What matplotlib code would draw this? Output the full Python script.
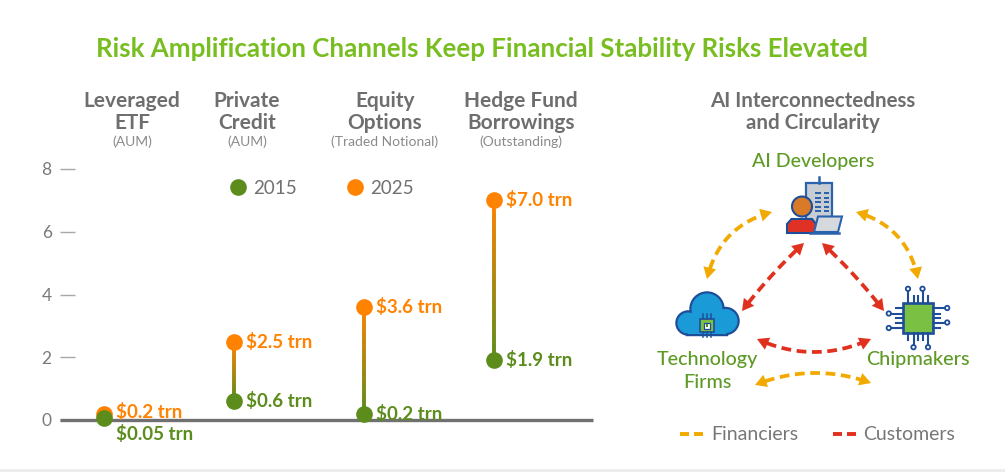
import numpy as np
import matplotlib
matplotlib.use("Agg")
import matplotlib.pyplot as plt
from matplotlib.collections import LineCollection
from matplotlib.patches import Rectangle, Circle, Polygon
from matplotlib.colors import to_rgb

# ---------------- data ----------------
categories = ["Leveraged\nETF", "Private\nCredit", "Equity\nOptions", "Hedge Fund\nBorrowings"]
measures = ["(AUM)", "(AUM)", "(Traded Notional)", "(Outstanding)"]
values_2015 = [0.05, 0.6, 0.2, 1.9]
values_2025 = [0.2, 2.5, 3.6, 7.0]
labels_2015 = ["$0.05 trn", "$0.6 trn", "$0.2 trn", "$1.9 trn"]
labels_2025 = ["$0.2 trn", "$2.5 trn", "$3.6 trn", "$7.0 trn"]
yticks = [0, 2, 4, 6, 8]
series_names = ["2015", "2025"]
title = "Risk Amplification Channels Keep Financial Stability Risks Elevated"
panel_title = "AI Interconnectedness\nand Circularity"
nodes = ["AI Developers", "Technology\nFirms", "Chipmakers"]
link_types = ["Financiers", "Customers"]

# ---------------- style ----------------
GREEN = "#5B8C1C"
ORANGE = "#FF8200"
TITLE_GREEN = "#78BE20"
NODE_GREEN = "#5E9B26"
GRAY = "#6E6E6E"
LGRAY = "#8A8A8A"
YEL = "#F2A900"
RED = "#E0301E"
NAVY = "#1F4E99"
FONT = "Lato"

W, H = 1005, 472
fig = plt.figure(figsize=(W / 100, H / 100), dpi=100)
fig.patch.set_facecolor("white")

# main lollipop axes (pixel layout: 0 -> y=420, 8 -> y=169, categories at x=104+130*i)
px_per_unit = (420 - 169) / 8.0
ax_left_px, ax_right_px, ax_top_px, ax_bot_px = 60, 600, 150, 450
ax = fig.add_axes([ax_left_px / W, (H - ax_bot_px) / H,
                   (ax_right_px - ax_left_px) / W, (ax_bot_px - ax_top_px) / H])
x0_px, dx_px = 104, 130
ax.set_xlim((ax_left_px - x0_px) / dx_px, (ax_right_px - x0_px) / dx_px)
ax.set_ylim(-(ax_bot_px - 420) / px_per_unit, 8 + (169 - ax_top_px) / px_per_unit)
for s in ax.spines.values():
    s.set_visible(False)
ax.set_xticks([])
ax.set_yticks(yticks)
ax.tick_params(axis="y", direction="in", length=11, width=1.0, color="#A8A8A8",
               pad=6, labelsize=12.5, labelcolor="#7A7A7A")
for lab in ax.get_yticklabels():
    lab.set_fontfamily(FONT)
ax.hlines(0, (ax_left_px - x0_px) / dx_px, (593 - x0_px) / dx_px, color="#707070",
          lw=2.4, zorder=2)
ax.patch.set_alpha(0)

xs = np.arange(len(categories))
g_rgb, o_rgb = np.array(to_rgb(GREEN)), np.array(to_rgb(ORANGE))
for i, (v0, v1) in enumerate(zip(values_2015, values_2025)):
    n = 60
    ys = np.linspace(v0, v1, n + 1)
    segs = [[(xs[i], ys[k]), (xs[i], ys[k + 1])] for k in range(n)]
    t = np.linspace(0, 1, n)
    cols = [tuple(g_rgb * (1 - tt) + o_rgb * tt) for tt in t]
    ax.add_collection(LineCollection(segs, colors=cols, linewidths=2.8, zorder=3,
                                     capstyle="butt"))
ax.plot(xs, values_2025, "o", color=ORANGE, ms=12, mec="none", zorder=4, clip_on=False)
ax.plot(xs, values_2015, "o", color=GREEN, ms=12, mec="none", zorder=5, clip_on=False)

for i in range(len(categories)):
    off25 = (9, 1.5) if i == 0 else (9, 0)
    ax.annotate(labels_2025[i], (xs[i], values_2025[i]), xytext=off25,
                textcoords="offset points", ha="left", va="center",
                color=ORANGE, fontsize=13.5, fontweight="bold", family=FONT, zorder=6)
    off = (9, -11) if i == 0 else (9, 0)
    ax.annotate(labels_2015[i], (xs[i], values_2015[i]), xytext=off,
                textcoords="offset points", ha="left", va="center",
                color=GREEN, fontsize=13.5, fontweight="bold", family=FONT, zorder=6)

# ---------------- overlay in pixel coordinates ----------------
ov = fig.add_axes([0, 0, 1, 1])
ov.set_xlim(0, W)
ov.set_ylim(H, 0)
ov.axis("off")
ov.patch.set_alpha(0)

ov.text(482, 49, title, ha="center", va="center", color=TITLE_GREEN,
        fontsize=18.6, fontweight="bold", family=FONT)

hdr_x = [132, 247, 385, 521]
for i, c in enumerate(categories):
    l1, l2 = c.split("\n")
    ov.text(hdr_x[i], 101, l1, ha="center", va="center", color=GRAY,
            fontsize=15, fontweight="bold", family=FONT)
    ov.text(hdr_x[i], 123, l2, ha="center", va="center", color=GRAY,
            fontsize=15, fontweight="bold", family=FONT)
    ov.text(hdr_x[i], 142, measures[i], ha="center", va="center", color=LGRAY,
            fontsize=10, family=FONT)

# legend for the lollipop
ov.plot([238], [187], "o", color=GREEN, ms=12, mec="none")
ov.text(253, 188, series_names[0], ha="left", va="center", color="#707070",
        fontsize=13.5, family=FONT)
ov.plot([355], [187], "o", color=ORANGE, ms=12, mec="none")
ov.text(370, 188, series_names[1], ha="left", va="center", color="#707070",
        fontsize=13.5, family=FONT)

# right panel titles
pt1, pt2 = panel_title.split("\n")
ov.text(813, 101, pt1, ha="center", va="center", color=GRAY, fontsize=14.8,
        fontweight="bold", family=FONT)
ov.text(813, 123, pt2, ha="center", va="center", color=GRAY, fontsize=14.8,
        fontweight="bold", family=FONT)
ov.text(813, 161, nodes[0], ha="center", va="center", color=NODE_GREEN, fontsize=14,
        family=FONT, fontweight="medium")
t1, t2 = nodes[1].split("\n")
ov.text(707, 359, t1, ha="center", va="center", color=NODE_GREEN, fontsize=14.2,
        family=FONT, fontweight="medium")
ov.text(707, 382, t2, ha="center", va="center", color=NODE_GREEN, fontsize=14.2,
        family=FONT, fontweight="medium")
ov.text(918, 359, nodes[2], ha="center", va="center", color=NODE_GREEN, fontsize=14.3,
        family=FONT, fontweight="medium")


# curved dashed double arrows
def double_arrow(p0, p1, bow, color):
    p0, p1 = np.array(p0, float), np.array(p1, float)
    mid = (p0 + p1) / 2
    d = p1 - p0
    perp = np.array([-d[1], d[0]]) / np.linalg.norm(d)
    ctrl = mid + perp * bow * 2
    t = np.linspace(0, 1, 300)[:, None]
    pts = (1 - t) ** 2 * p0 + 2 * (1 - t) * t * ctrl + t ** 2 * p1
    seg = np.linalg.norm(np.diff(pts, axis=0), axis=1)
    s = np.concatenate([[0], np.cumsum(seg)])
    L = 11.5
    keep = (s > L - 1) & (s < s[-1] - L + 1)
    ov.plot(pts[keep, 0], pts[keep, 1], color=color, lw=2.7,
            ls=(0, (2.6, 1.5)), solid_capstyle="butt", dash_capstyle="butt")
    for tip, nb in ((pts[0], pts[8]), (pts[-1], pts[-9])):
        u = tip - nb
        u /= np.linalg.norm(u)
        pu = np.array([-u[1], u[0]])
        base = tip - u * L
        ov.add_patch(Polygon([tip, base + pu * 6.5, base - pu * 6.5], closed=True,
                             facecolor=color, edgecolor="none"))


double_arrow((707, 279), (772, 212), -14, YEL)
double_arrow((856, 212), (918, 279), -14, YEL)
double_arrow((755, 385), (871, 383), -11, YEL)
double_arrow((804, 243), (742, 311), 2, RED)
double_arrow((822, 243), (884, 311), -2, RED)
double_arrow((757, 339), (871, 339), 13, RED)

# legend for diagram
for x in (680, 694):
    ov.plot([x, x + 9], [434, 434], color=YEL, lw=2.8, solid_capstyle="butt")
ov.text(711, 435, link_types[0], ha="left", va="center", color="#777777",
        fontsize=14, family=FONT)
for x in (833, 847):
    ov.plot([x, x + 9], [434, 434], color=RED, lw=2.8, solid_capstyle="butt")
ov.text(863, 435, link_types[1], ha="left", va="center", color="#777777",
        fontsize=14, family=FONT)

# ---------- icons ----------
BLUE = "#2A63AD"
# AI developer: building, person, laptop
ov.plot([818.5, 818.5], [177, 183], color=BLUE, lw=1.8)
ov.add_patch(Rectangle((806, 183), 26, 41, facecolor="#C8CDD4", edgecolor=BLUE, lw=1.6))
for cx in (815, 823.5):
    for ry in (192, 196.5, 201, 205.5, 210):
        ov.add_patch(Rectangle((cx, ry), 5.5, 2.2, facecolor=BLUE, edgecolor="none"))
ov.add_patch(Polygon([(787, 233), (787, 224), (791.5, 219), (812, 219), (816, 224),
                      (816, 233)], closed=True, facecolor="#E03224", edgecolor=NAVY, lw=1.5))
ov.add_patch(Circle((802, 206.5), 10, facecolor="#D97A28", edgecolor=NAVY, lw=1.5))
ov.add_patch(Polygon([(818, 216.5), (842, 216.5), (838, 232), (814, 232)], closed=True,
                     facecolor="#D5D8DC", edgecolor=BLUE, lw=1.5))
ov.plot([810, 839], [233, 233], color=BLUE, lw=1.8)

# Technology firm: cloud with chip
CLOUD = "#1B9AD8"
def cloud_shapes():
    return [Circle((707, 309), 15.5), Circle((688, 323), 10.5), Circle((725.5, 321), 12),
            Rectangle((688, 313), 37.5, 20.5)]
for p in cloud_shapes():
    p.set_facecolor(NAVY)
    p.set_edgecolor(NAVY)
    p.set_linewidth(3.2)
    ov.add_patch(p)
for p in cloud_shapes():
    p.set_facecolor(CLOUD)
    p.set_edgecolor("none")
    ov.add_patch(p)
for px in (703, 707, 711):
    ov.plot([px, px], [314, 319], color=NAVY, lw=1.1)
    ov.plot([px, px], [332, 337], color=NAVY, lw=1.1)
ov.add_patch(Rectangle((700, 319), 14, 13, facecolor="#7AC143", edgecolor=NAVY, lw=1.2))
ov.add_patch(Rectangle((704, 322.5), 6, 6, facecolor="white", edgecolor=NAVY, lw=0.9))
ov.add_patch(Rectangle((705.8, 324.3), 2.4, 2.4, facecolor="#5B8C1C", edgecolor="none"))

# Chipmaker: chip
cx0, cy0, cs = 903, 303, 30
pins = [cx0 + 5, cx0 + 10.5, cx0 + 15, cx0 + 19.5, cx0 + 25]
for k, p in enumerate(pins):
    ln = 12 if k in (0, 3) else 7
    ov.plot([p, p], [cy0, cy0 - ln], color=NAVY, lw=1.5)
    lb = 12 if k in (1, 4) else 7
    ov.plot([p, p], [cy0 + cs, cy0 + cs + lb], color=NAVY, lw=1.5)
    if k in (0, 3):
        ov.add_patch(Circle((p, cy0 - ln - 2.2), 2.2, facecolor="white", edgecolor=NAVY, lw=1.3))
    if k in (1, 4):
        ov.add_patch(Circle((p, cy0 + cs + lb + 2.2), 2.2, facecolor="white", edgecolor=NAVY, lw=1.3))
for k, p in enumerate(pins):
    py = p - cx0 + cy0
    lnl = 12 if k in (1, 4) else 7
    lnr = 12 if k in (0, 3) else 7
    ov.plot([cx0, cx0 - lnl], [py, py], color=NAVY, lw=1.5)
    ov.plot([cx0 + cs, cx0 + cs + lnr], [py, py], color=NAVY, lw=1.5)
    if k in (1, 4):
        ov.add_patch(Circle((cx0 - lnl - 2.2, py), 2.2, facecolor="white", edgecolor=NAVY, lw=1.3))
    if k in (0, 3):
        ov.add_patch(Circle((cx0 + cs + lnr + 2.2, py), 2.2, facecolor="white", edgecolor=NAVY, lw=1.3))
ov.add_patch(Rectangle((cx0, cy0), cs, cs, facecolor="#7AC143", edgecolor=NAVY, lw=1.9))

# faint bottom border
ov.add_patch(Rectangle((0, 469), W, 3, facecolor="#EDEDED", edgecolor="none"))

fig.savefig("out.png", dpi=100, facecolor="white")
